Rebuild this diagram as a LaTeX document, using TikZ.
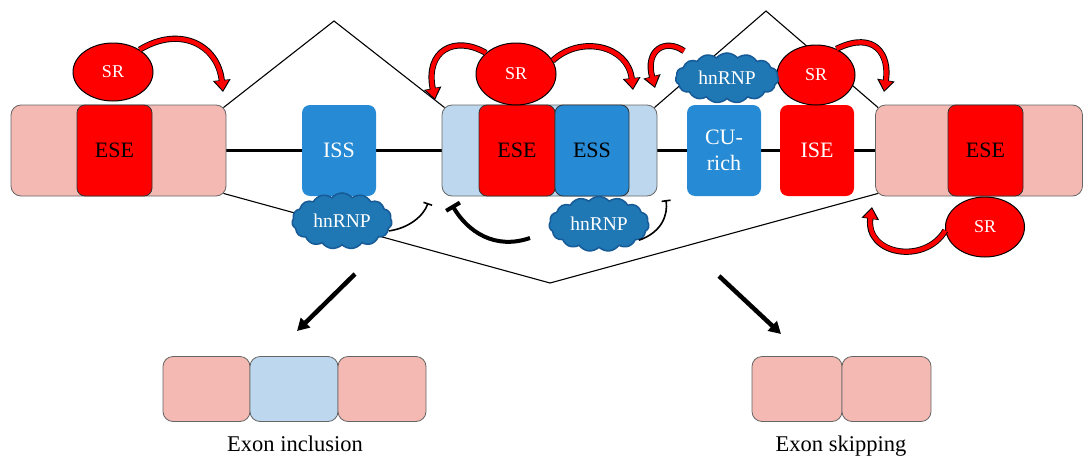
\documentclass[tikz,border=0pt]{standalone}
\usepackage{fontspec}
\setmainfont{Liberation Serif}
\usetikzlibrary{shapes.geometric,shapes.symbols,arrows.meta,backgrounds}
\definecolor{pinkE}{RGB}{244,185,178}
\definecolor{lblue}{RGB}{189,215,238}
\definecolor{bblue}{RGB}{38,139,212}
\definecolor{cblue}{RGB}{31,119,180}
\definecolor{cborder}{RGB}{22,90,150}
\definecolor{rred}{RGB}{255,0,0}
\newcommand\redarc[1]{%
  \draw[line width=6.2pt, black, -{Triangle[length=12pt,width=17pt]}] #1;
  \draw[line width=4.4pt, rred, shorten >=1.7pt, -{Triangle[length=9.6pt,width=13pt]}] #1;}
\begin{document}
\begin{tikzpicture}[x=1pt,y=-1pt,
  exonbox/.style={draw=black!60, line width=0.8pt, rounded corners=10pt, minimum height=91pt, inner sep=0pt},
  elem/.style={rounded corners=8pt, minimum width=75pt, minimum height=91pt, inner sep=0pt, font=\fontsize{22}{26}\selectfont},
  redel/.style={elem, fill=rred, draw=black!80, line width=0.8pt},
  redplain/.style={elem, fill=rred, text=white},
  blueel/.style={elem, fill=bblue, text=white},
  srnode/.style={ellipse, fill=rred, draw=black, line width=1pt, text=white, inner sep=0pt, font=\fontsize{18}{21}\selectfont},
  hnrnp/.style={cloud, cloud puffs=15, cloud puff arc=100, cloud ignores aspect, fill=cblue, draw=cborder, line width=1.5pt, text=white, minimum width=100pt, minimum height=52pt, inner sep=0pt, font=\fontsize{19.5}{22}\selectfont},
  splice/.style={line width=1.1pt},
  backbone/.style={line width=3.5pt},
  inhib/.style={line width=1.6pt, -{Bar[width=9pt]}},
  inhibthick/.style={line width=4pt, -{Bar[width=16pt]}},
  resultarrow/.style={line width=4.5pt, -{Triangle[length=12pt,width=13pt]}},
  small/.style={exonbox, minimum height=65pt},
  lbl/.style={font=\fontsize{22.5}{26}\selectfont, anchor=base}
]
\useasboundingbox (0,0) rectangle (1083,455);

% free-end coordinates
\coordinate (apx1) at (334,21);
\coordinate (apx2) at (766,11);
\coordinate (apx3) at (550,283);

% exons
\node[exonbox, fill=pinkE, minimum width=215pt] (exL) at (118.5,150.5) {};
\node[exonbox, fill=lblue, minimum width=215pt] (exM) at (549.5,150.5) {};
\node[exonbox, fill=pinkE, minimum width=207pt] (exR) at (979,150.5) {};

% backbone and splice lines behind
\begin{scope}[on background layer]
  \draw[backbone] (exL.east) -- (exR.west);
  \draw[splice] ([xshift=-3pt,yshift=-3pt]exL.north east) -- (apx1) -- ([xshift=3pt,yshift=-3pt]exM.north west);
  \draw[splice] ([xshift=-3pt,yshift=-3pt]exM.north east) -- (apx2) -- ([xshift=3pt,yshift=-3pt]exR.north west);
  \draw[splice] ([xshift=-3pt,yshift=3pt]exL.south east) -- (apx3) -- ([xshift=3pt,yshift=3pt]exR.south west);
\end{scope}

% elements
\node[redel] (eseL) at (114.5,150.5) {ESE};
\node[blueel, minimum width=74pt] (iss) at (339,150.5) {ISS};
\node[redel, minimum width=76pt] (eseM) at (517,150.5) {ESE};
\node[elem, fill=bblue, draw=black!80, line width=0.8pt, minimum width=74pt] (ess) at (592,150.5) {ESS};
\node[blueel, minimum width=74pt, align=center] (cu) at (724,150.5) {CU-\\rich};
\node[redplain, minimum width=74pt] (ise) at (817,150.5) {ISE};
\node[redel] (eseR) at (985.5,150.5) {ESE};

% SR proteins
\node[srnode, minimum width=80pt, minimum height=58pt] (srL) at (113,72) {SR};
\node[srnode, minimum width=80pt, minimum height=62pt] (srM) at (516,74) {SR};
\node[srnode, minimum width=78pt, minimum height=60pt] (srR) at (816,75) {SR};
\node[srnode, minimum width=79pt, minimum height=60pt] (srB) at (985,227) {SR};

% hnRNPs
\node[hnrnp, minimum width=103pt, minimum height=50pt] (hnT) at (727,78) {hnRNP};
\node[hnrnp, minimum height=56pt] (hnL) at (342,221) {hnRNP};
\node[hnrnp, minimum height=55pt] (hnM) at (599,224) {hnRNP};

% red activation arrows
\coordinate (r1) at (223,92);
\coordinate (r2) at (435,100);
\coordinate (r3) at (633,90);
\coordinate (r4s) at (684,51);
\coordinate (r4) at (655,88);
\coordinate (r5) at (884,92);
\coordinate (r6) at (872,207);
\redarc{(srL.40) .. controls (180,25) and (218,45) .. (r1)}
\redarc{(srM.145) .. controls (455,35) and (425,50) .. (r2)}
\redarc{(srM.20) .. controls (580,35) and (628,45) .. (r3)}
\redarc{(r4s) .. controls (665,38) and (645,50) .. (r4)}
\redarc{(srR.52) .. controls (875,30) and (890,55) .. (r5)}
\redarc{(srB.185) .. controls (925,265) and (865,255) .. (r6)}

% inhibition arrows
\coordinate (b1) at (428,203);
\coordinate (b2s) at (530,238);
\coordinate (b2) at (452,205);
\coordinate (b3) at (666,200);
\draw[inhib] (hnL.-12) .. controls (410,228) and (424,215) .. (b1);
\draw[inhibthick] (b2s) .. controls (495,250) and (468,232) .. (b2);
\draw[inhib] (hnM.-22) .. controls (662,232) and (668,215) .. (b3);

% outcome arrows
\coordinate (oL1) at (355,274);
\coordinate (oL2) at (297,331);
\coordinate (oR1) at (719,276);
\coordinate (oR2) at (781,334);
\draw[resultarrow] (oL1) -- (oL2);
\draw[resultarrow] (oR1) -- (oR2);

% results
\node[small, fill=pinkE, minimum width=87pt] (inc1) at (206.5,389) {};
\node[small, fill=lblue, minimum width=88pt] (inc2) at (294,389) {};
\node[small, fill=pinkE, minimum width=88pt] (inc3) at (382,389) {};
\node[small, fill=pinkE, minimum width=90pt] (sk1) at (797,389) {};
\node[small, fill=pinkE, minimum width=89pt] (sk2) at (886.5,389) {};
\node[lbl] (incl) at (295,451) {Exon inclusion};
\node[lbl] (skl) at (841,451) {Exon skipping};
\end{tikzpicture}
\end{document}
